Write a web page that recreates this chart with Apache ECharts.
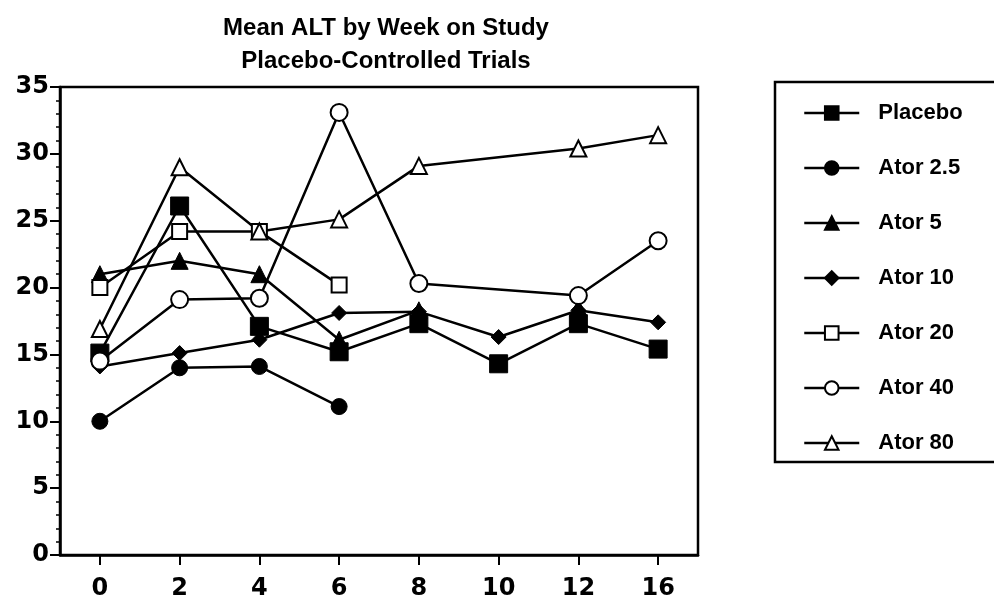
<!DOCTYPE html>
<html>
<head>
<meta charset="utf-8">
<script src="https://cdn.jsdelivr.net/npm/echarts@6/dist/echarts.min.js"></script>
<style>
html,body{margin:0;padding:0;background:#fff;}
#chart{width:994px;height:601px;}
</style>
</head>
<body>
<div id="chart"></div>
<script>
var weeks = ['0', '2', '4', '6', '8', '10', '12', '16'];
var yTicks = [0, 5, 10, 15, 20, 25, 30, 35];
var placebo = [15.1, 26.1, 17.1, 15.2, 17.3, 14.3, 17.3, 15.4];
var ator2_5 = [10.0, 14.0, 14.1, 11.1, null, null, null, null];
var ator5   = [21.0, 22.0, 21.0, 16.1, 18.3, null, 18.5, null];
var ator10  = [14.1, 15.1, 16.1, 18.1, 18.2, 16.3, 18.3, 17.4];
var ator20  = [20.0, 24.2, 24.2, 20.2, null, null, null, null];
var ator40  = [14.5, 19.1, 19.2, 33.1, 20.3, null, 19.4, 23.5];
var ator80  = [16.9, 29.0, 24.2, 25.1, 29.1, null, 30.4, 31.4];
var seriesNames = ['Placebo', 'Ator 2.5', 'Ator 5', 'Ator 10', 'Ator 20', 'Ator 40', 'Ator 80'];

var FONT = 'Liberation Sans';
var TICKFONT = 'DejaVu Sans';
function mk(name, data, symbol, size, filled, connect) {
  return {
    name: name, type: 'line', data: data,
    symbol: symbol, symbolSize: size, showSymbol: true,
    connectNulls: connect,
    lineStyle: {color: '#000', width: 2.5},
    itemStyle: filled ? {color: '#000', borderColor: '#000', borderWidth: 1}
                      : {color: '#fff', borderColor: '#000', borderWidth: 2},
    emphasis: {disabled: true},
    animation: false
  };
}

var chart = echarts.init(document.getElementById('chart'));
chart.setOption({
  backgroundColor: '#fff',
  animation: false,
  title: {
    text: 'Mean ALT by Week on Study\nPlacebo-Controlled Trials',
    left: 381, top: 7, textAlign: 'center',
    textStyle: {fontFamily: FONT, fontSize: 24, fontWeight: 'bold', color: '#000', lineHeight: 33}
  },
  grid: {left: 60, right: 296, top: 87, bottom: 44, show: true, borderColor: '#000', borderWidth: 2.5, backgroundColor: 'transparent'},
  legend: {
    orient: 'vertical', left: 798, top: 96,
    itemWidth: 55, itemHeight: 17, itemGap: 31,
    data: seriesNames,
    lineStyle: {width: 2.5},
    textStyle: {fontFamily: FONT, fontSize: 22, fontWeight: 'bold', color: '#000', lineHeight: 24, padding: [0, 0, 0, 14]},
    selectedMode: false
  },
  graphic: [{
    type: 'rect', shape: {x: 775, y: 82, width: 240, height: 380},
    style: {fill: 'none', stroke: '#000', lineWidth: 2.5}, silent: true
  }],
  xAxis: {
    type: 'category', data: weeks, boundaryGap: true,
    axisLine: {lineStyle: {color: '#000', width: 2.5}},
    axisTick: {show: true, alignWithLabel: true, length: 10, lineStyle: {color: '#000', width: 2}},
    axisLabel: {fontFamily: TICKFONT, fontSize: 24, fontWeight: 'bold', color: '#000', margin: 22},
    splitLine: {show: false}
  },
  yAxis: {
    type: 'value', min: yTicks[0], max: yTicks[yTicks.length - 1], interval: 5,
    axisLine: {show: true, lineStyle: {color: '#000', width: 2.5}},
    axisTick: {show: true, length: 10, lineStyle: {color: '#000', width: 2}},
    minorTick: {show: true, splitNumber: 5, length: 4, lineStyle: {color: '#000', width: 1.5}},
    axisLabel: {fontFamily: TICKFONT, fontSize: 24, fontWeight: 'bold', color: '#000', margin: 11},
    splitLine: {show: false}
  },
  series: [
    mk('Placebo', placebo, 'rect', 18, true, false),
    mk('Ator 2.5', ator2_5, 'circle', 16, true, false),
    mk('Ator 5', ator5, 'triangle', 17, true, false),
    mk('Ator 10', ator10, 'diamond', 15, true, false),
    mk('Ator 20', ator20, 'rect', 15, false, false),
    mk('Ator 40', ator40, 'circle', 17, false, true),
    mk('Ator 80', ator80, 'triangle', 16, false, true)
  ]
});
</script>
</body>
</html>
